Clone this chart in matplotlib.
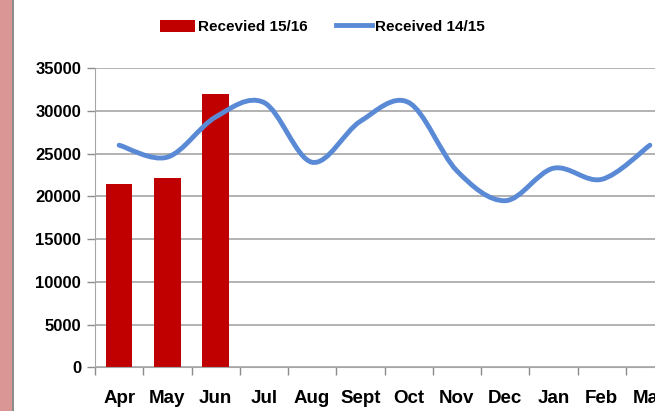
import matplotlib.pyplot as plt
import numpy as np
from matplotlib.path import Path
from matplotlib.patches import PathPatch, Rectangle
from matplotlib.lines import Line2D

months = ['Apr', 'May', 'Jun', 'Jul', 'Aug', 'Sept', 'Oct', 'Nov', 'Dec', 'Jan', 'Feb', 'Mar']
received_1516 = [21500, 22200, 32000]
received_1415 = [26000, 24600, 29300, 31000, 24000, 28800, 31000, 23000, 19500, 23300, 22000, 26000]
yticks = [0, 5000, 10000, 15000, 20000, 25000, 30000, 35000]

plt.rcParams['font.family'] = ['Liberation Sans', 'DejaVu Sans']
plt.rcParams['font.weight'] = 'bold'

fig = plt.figure(figsize=(6.55, 4.11), dpi=100)

# pink strip on the left edge
fig.add_artist(Rectangle((0, 0), 12 / 655, 1, transform=fig.transFigure,
                         facecolor='#d99694', edgecolor='none'))
fig.add_artist(Rectangle((12 / 655, 0), 1.5 / 655, 1, transform=fig.transFigure,
                         facecolor='#8c8c8c', edgecolor='none'))

# axes reach past the right edge, as in the cropped original
left, right = 95 / 655, 674 / 655
bottom, top = 1 - 367.3 / 411, 1 - 68.3 / 411
ax = fig.add_axes([left, bottom, right - left, top - bottom])

x = np.arange(len(months))
ax.bar(x[:len(received_1516)], received_1516, width=0.55, color='#c00000', zorder=2)


def smooth_path(xs, ys):
    # excel-like smoothing: catmull-rom segments as cubic beziers
    pts = np.column_stack([xs, ys]).astype(float)
    verts = [pts[0]]
    codes = [Path.MOVETO]
    n = len(pts)
    for i in range(n - 1):
        p0 = pts[i - 1] if i > 0 else pts[i]
        p1 = pts[i]
        p2 = pts[i + 1]
        p3 = pts[i + 2] if i + 2 < n else pts[i + 1]
        c1 = p1 + (p2 - p0) / 6
        c2 = p2 - (p3 - p1) / 6
        verts += [c1, c2, p2]
        codes += [Path.CURVE4] * 3
    return Path(verts, codes)


line_path = smooth_path(x, received_1415)
ax.add_patch(PathPatch(line_path, facecolor='none', edgecolor='#5a8ad6',
                       lw=3.5, capstyle='round', joinstyle='round', zorder=3))

ax.set_xlim(-0.5, len(months) - 0.5)
ax.set_ylim(0, 35000)
ax.set_yticks(yticks)
ax.set_yticklabels([str(v) for v in yticks], fontsize=12, fontweight='bold')
ax.set_xticks(x)
ax.set_xticklabels(months, fontsize=13.5, fontweight='bold')
ax.set_xticks(np.arange(len(months) + 1) - 0.5, minor=True)
ax.tick_params(axis='x', which='major', length=0, pad=16)
ax.tick_params(axis='x', which='minor', length=6, color='#8c8c8c', width=1)
ax.tick_params(axis='y', length=6, color='#8c8c8c', width=1, pad=4)
ax.grid(axis='y', color='#a6a6a6', lw=1.2, zorder=0)
ax.set_axisbelow(True)
for s in ['top', 'right']:
    ax.spines[s].set_visible(False)
ax.spines['left'].set_color('#a6a6a6')
ax.spines['bottom'].set_color('#a6a6a6')

handles = [Rectangle((0, 0), 1, 1, facecolor='#c00000'),
           Line2D([0], [0], color='#5a8ad6', lw=3.5)]
fig.legend(handles, ['Recevied 15/16', 'Received 14/15'], loc='center',
           bbox_to_anchor=(322 / 655, 1 - 27 / 411), ncol=2, frameon=False,
           handlelength=2.3, handleheight=0.8, handletextpad=0.2,
           columnspacing=1.9, prop={'weight': 'bold', 'size': 11})

fig.savefig('out.png', dpi=100)
